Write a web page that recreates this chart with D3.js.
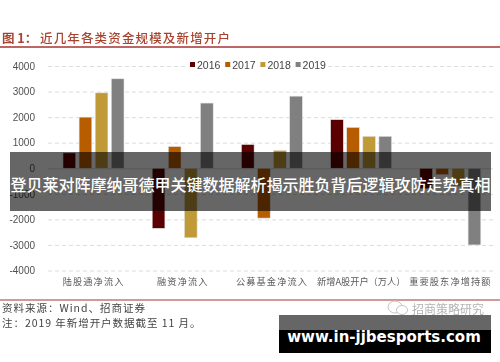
<!DOCTYPE html>
<html>
<head>
<meta charset="utf-8">
<script src="https://cdn.jsdelivr.net/npm/d3@7"></script>
<style>
  html, body { margin: 0; padding: 0; background: #fff; }
  svg { display: block; }
  text { font-family: "Liberation Sans", "Noto Sans CJK SC", sans-serif; }
  .cjk { font-family: "Noto Sans CJK SC", sans-serif; }
  .chart { filter: blur(0.35px); }
</style>
</head>
<body>
<svg id="chart" width="500" height="362"></svg>
<script>
const categories = ['陆股通净流入', '融资净流入', '公募基金净流入', '新增A股开户（万人）', '重要股东净增持额'];
const years = ['2016', '2017', '2018', '2019'];
const values2016 = [600, -2350, 930, 1900, -800];
const values2017 = [2000, 850, -1950, 1600, -250];
const values2018 = [2950, -2720, 700, 1250, -700];
const values2019 = [3500, 2550, 2820, 1250, -3000];
const yTicks = [4000, 3000, 2000, 1000, 0, -1000, -2000, -3000, -4000];
const colors = ['#5b0000', '#b85c00', '#bf9a36', '#808080'];

const series = [values2016, values2017, values2018, values2019];

const svg = d3.select('#chart');
const chart = svg.append('g').attr('class', 'chart');

const x0 = d3.scaleBand().domain(categories).range([48, 494]);
const x1 = d3.scaleBand().domain(years).range([15, 76]).paddingInner(0.21);
const y = d3.scaleLinear().domain([-4000, 4000]).range([270.5, 66]);

// title
const title = chart.append('text')
  .attr('class', 'cjk')
  .attr('y', 43)
  .attr('fill', '#a8432f')
  .attr('font-size', 12.5)
  .attr('font-weight', 500);
title.append('tspan')
  .attr('x', 2)
  .attr('font-weight', 700)
  .text('图 1：');
title.append('tspan')
  .attr('x', 40)
  .attr('letter-spacing', 1.15)
  .text('近几年各类资金规模及新增开户');

chart.append('line')
  .attr('x1', 0).attr('x2', 500)
  .attr('y1', 47).attr('y2', 47)
  .attr('stroke', '#a83232')
  .attr('stroke-width', 1.5);

// y axis with grid
const yAxis = chart.append('g')
  .attr('transform', 'translate(48,0)')
  .call(d3.axisLeft(y).tickValues(yTicks).tickFormat(String).tickSize(-445).tickPadding(13));
yAxis.select('.domain').remove();
yAxis.selectAll('.tick line')
  .attr('stroke', '#dcdcdc')
  .attr('stroke-dasharray', d => d === 0 ? null : '4 3');
yAxis.selectAll('.tick text')
  .attr('fill', '#505050')
  .attr('font-size', 10);

// bars
chart.append('g')
  .selectAll('g')
  .data(categories)
  .join('g')
  .attr('transform', d => 'translate(' + x0(d) + ',0)')
  .selectAll('rect')
  .data((d, i) => years.map((year, j) => ({ year, color: colors[j], value: series[j][i] })))
  .join('rect')
  .attr('x', d => x1(d.year))
  .attr('width', x1.bandwidth())
  .attr('y', d => y(Math.max(d.value, 0)))
  .attr('height', d => Math.abs(y(d.value) - y(0)))
  .attr('fill', d => d.color)
  .attr('stroke', '#e4e4e4')
  .attr('stroke-width', 0.6);

// category labels
const xAxis = chart.append('g')
  .attr('transform', 'translate(1,278)')
  .call(d3.axisBottom(x0).tickSize(0).tickPadding(0));
xAxis.select('.domain').remove();
xAxis.selectAll('.tick text')
  .attr('class', 'cjk')
  .attr('fill', '#5a5a5a')
  .attr('font-size', 9.2)
  .attr('letter-spacing', d => d.length > 8 ? 0 : 1.1);

// legend
const legend = chart.append('g').attr('transform', 'translate(187,56)');
legend.append('rect')
  .attr('width', 140).attr('height', 20)
  .attr('y', 0)
  .attr('fill', '#fff')
  .attr('fill-opacity', 0.75);
const legendItems = legend.selectAll('g')
  .data(years)
  .join('g')
  .attr('transform', (d, i) => 'translate(' + (3 + i * 35.2) + ',0)');
legendItems.append('rect')
  .attr('y', 6)
  .attr('width', 5)
  .attr('height', 5)
  .attr('fill', (d, i) => colors[i]);
legendItems.append('text')
  .attr('x', 7)
  .attr('y', 13)
  .attr('font-size', 10.5)
  .attr('fill', '#444')
  .text(d => d);

// footer
chart.append('line')
  .attr('x1', 0).attr('x2', 500)
  .attr('y1', 300).attr('y2', 300)
  .attr('stroke', '#a83232')
  .attr('stroke-width', 1.2);

chart.append('text')
  .attr('class', 'cjk')
  .attr('x', 2).attr('y', 312)
  .attr('font-size', 10.5)
  .attr('letter-spacing', 1)
  .attr('fill', '#444')
  .text('资料来源：Wind、招商证券');

chart.append('text')
  .attr('class', 'cjk')
  .attr('x', 2).attr('y', 327)
  .attr('font-size', 10.5)
  .attr('letter-spacing', 0.95)
  .attr('fill', '#444')
  .text('注：2019 年新增开户数据截至 11 月。');

// watermark
const mark = chart.append('g').attr('fill', '#fff').attr('stroke', '#c4c4c4');
mark.append('ellipse').attr('cx', 395).attr('cy', 307).attr('rx', 7).attr('ry', 6);
mark.append('ellipse').attr('cx', 402).attr('cy', 310).attr('rx', 5.5).attr('ry', 4.5);
chart.append('text')
  .attr('class', 'cjk')
  .attr('x', 412).attr('y', 314)
  .attr('font-size', 12)
  .attr('fill', '#b4b4b4')
  .text('招商策略研究');

// overlay bands
svg.append('rect')
  .attr('x', 10).attr('y', 152)
  .attr('width', 481).attr('height', 59)
  .attr('fill', '#000')
  .attr('fill-opacity', 0.6);

svg.append('text')
  .attr('class', 'cjk')
  .attr('x', 250.5).attr('y', 191)
  .attr('text-anchor', 'middle')
  .attr('font-size', 16)
  .attr('font-weight', 500)
  .attr('fill', '#fff')
  .text('登贝莱对阵摩纳哥德甲关键数据解析揭示胜负背后逻辑攻防走势真相');

svg.append('rect')
  .attr('x', 279).attr('y', 315)
  .attr('width', 212).attr('height', 15)
  .attr('fill', '#666');
svg.append('rect')
  .attr('x', 279).attr('y', 330)
  .attr('width', 212).attr('height', 23)
  .attr('fill', '#000');

svg.append('text')
  .attr('x', 384).attr('y', 342)
  .attr('text-anchor', 'middle')
  .attr('font-size', 15)
  .attr('font-weight', 700)
  .attr('fill', '#fff')
  .style('font-family', '"DejaVu Sans", sans-serif')
  .text('www.in-jjbesports.com');
</script>
</body>
</html>
